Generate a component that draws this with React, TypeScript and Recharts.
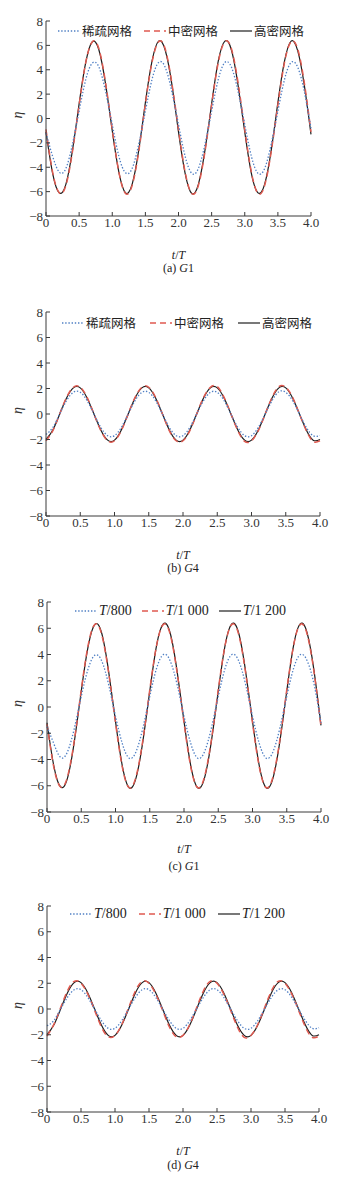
import React from "react";
import { LineChart, Line, XAxis, YAxis, Legend, Label } from "recharts";

// time axis (t/T), one sample every 0.1 T
const tValues = [
  0, 0.1, 0.2, 0.3, 0.4, 0.5, 0.6, 0.7, 0.8, 0.9,
  1.0, 1.1, 1.2, 1.3, 1.4, 1.5, 1.6, 1.7, 1.8, 1.9,
  2.0, 2.1, 2.2, 2.3, 2.4, 2.5, 2.6, 2.7, 2.8, 2.9,
  3.0, 3.1, 3.2, 3.3, 3.4, 3.5, 3.6, 3.7, 3.8, 3.9,
  4.0,
];
const xTicks = [0, 0.5, 1, 1.5, 2, 2.5, 3, 3.5, 4];
const yTicks = [-8, -6, -4, -2, 0, 2, 4, 6, 8];

const gridLabels = ["稀疏网格", "中密网格", "高密网格"];
const stepLabels = ["T/800", "T/1 000", "T/1 200"];

// (a) G1, grid study
const aCoarse = [
  -1.2, -3.1, -4.4, -4.1, -2.1, 0.6, 3.2, 4.55, 4.2, 2.2,
  -0.5, -3.1, -4.45, -4.1, -2.1, 0.6, 3.2, 4.6, 4.2, 2.2,
  -0.5, -3.1, -4.5, -4.1, -2.1, 0.6, 3.2, 4.6, 4.2, 2.2,
  -0.5, -3.1, -4.5, -4.1, -2.1, 0.6, 3.2, 4.6, 4.2, 2.2,
  -0.8,
];
const aMedium = [
  -0.9, -4.4, -6.1, -5.5, -2.7, 1.1, 4.6, 6.3, 5.7, 2.9,
  -0.9, -4.4, -6.15, -5.5, -2.7, 1.2, 4.6, 6.3, 5.7, 2.9,
  -0.9, -4.4, -6.15, -5.5, -2.7, 1.1, 4.6, 6.3, 5.7, 2.9,
  -0.9, -4.4, -6.15, -5.5, -2.7, 1.1, 4.6, 6.3, 5.7, 2.9,
  -1.1,
];
const aFine = [
  -1.1, -4.5, -6.1, -5.4, -2.6, 1.2, 4.6, 6.3, 5.6, 2.8,
  -1.0, -4.4, -6.1, -5.4, -2.6, 1.3, 4.7, 6.35, 5.6, 2.8,
  -1.1, -4.5, -6.15, -5.4, -2.6, 1.2, 4.7, 6.35, 5.6, 2.7,
  -1.1, -4.5, -6.1, -5.4, -2.6, 1.3, 4.7, 6.35, 5.55, 2.7,
  -1.3,
];

// (b) G4, grid study
const bCoarse = [
  -1.6, -1.05, 0.0, 1.05, 1.7, 1.7, 1.05, 0.0, -1.05, -1.7,
  -1.7, -1.05, 0.0, 1.05, 1.7, 1.7, 1.05, 0.0, -1.05, -1.7,
  -1.7, -1.05, 0.0, 1.05, 1.7, 1.7, 1.05, 0.0, -1.05, -1.7,
  -1.7, -1.05, 0.0, 1.05, 1.75, 1.7, 1.05, 0.0, -1.05, -1.7,
  -1.7,
];
const bMedium = [
  -2.1, -1.3, 0.0, 1.3, 2.1, 2.1, 1.3, 0.0, -1.3, -2.1,
  -2.1, -1.3, 0.0, 1.3, 2.1, 2.1, 1.3, 0.0, -1.3, -2.1,
  -2.1, -1.3, 0.0, 1.3, 2.1, 2.15, 1.3, 0.0, -1.3, -2.15,
  -2.1, -1.3, 0.0, 1.3, 2.15, 2.1, 1.3, 0.0, -1.3, -2.15,
  -2.1,
];
const bFine = [
  -2.0, -1.25, 0.0, 1.25, 2.05, 2.05, 1.25, 0.0, -1.25, -2.05,
  -2.05, -1.25, 0.0, 1.25, 2.05, 2.05, 1.25, 0.0, -1.25, -2.05,
  -2.05, -1.25, 0.0, 1.25, 2.05, 2.05, 1.25, 0.0, -1.25, -2.05,
  -2.05, -1.25, 0.0, 1.25, 2.05, 2.05, 1.25, 0.0, -1.25, -2.05,
  -2.0,
];

// (c) G1, time step study
const cCoarse = [
  -1.5, -2.8, -3.85, -3.4, -1.6, 0.8, 2.9, 3.95, 3.5, 1.7,
  -0.7, -2.8, -3.9, -3.4, -1.6, 0.8, 2.95, 4.0, 3.5, 1.7,
  -0.7, -2.8, -3.9, -3.4, -1.6, 0.8, 2.95, 4.0, 3.5, 1.7,
  -0.7, -2.8, -3.9, -3.4, -1.6, 0.8, 2.95, 4.0, 3.5, 1.7,
  -1.2,
];
const cMedium = [
  -1.3, -4.6, -6.1, -5.3, -2.5, 1.3, 4.7, 6.3, 5.5, 2.6,
  -1.2, -4.6, -6.15, -5.3, -2.5, 1.3, 4.7, 6.3, 5.5, 2.6,
  -1.2, -4.6, -6.15, -5.3, -2.5, 1.3, 4.7, 6.3, 5.5, 2.6,
  -1.2, -4.6, -6.15, -5.3, -2.5, 1.3, 4.7, 6.3, 5.5, 2.6,
  -1.5,
];
const cFine = [
  -1.2, -4.5, -6.1, -5.4, -2.6, 1.2, 4.6, 6.3, 5.6, 2.7,
  -1.1, -4.5, -6.15, -5.4, -2.6, 1.2, 4.7, 6.35, 5.6, 2.7,
  -1.1, -4.5, -6.15, -5.4, -2.6, 1.2, 4.7, 6.35, 5.6, 2.7,
  -1.1, -4.5, -6.15, -5.4, -2.6, 1.2, 4.7, 6.35, 5.6, 2.7,
  -1.4,
];

// (d) G4, time step study
const dCoarse = [
  -1.3, -0.9, 0.0, 0.9, 1.5, 1.5, 0.9, 0.0, -0.9, -1.5,
  -1.5, -0.9, 0.0, 0.9, 1.5, 1.5, 0.9, 0.0, -0.9, -1.5,
  -1.5, -0.9, 0.0, 0.9, 1.5, 1.5, 0.9, 0.0, -0.9, -1.5,
  -1.5, -0.9, 0.0, 0.9, 1.5, 1.5, 0.9, 0.0, -0.9, -1.5,
  -1.45,
];
const dMedium = [
  -2.1, -1.2, 0.1, 1.4, 2.15, 2.0, 1.15, -0.1, -1.4, -2.15,
  -2.05, -1.2, 0.1, 1.4, 2.15, 2.0, 1.15, -0.1, -1.4, -2.15,
  -2.05, -1.2, 0.1, 1.4, 2.15, 2.0, 1.15, -0.1, -1.4, -2.2,
  -2.05, -1.2, 0.1, 1.4, 2.15, 2.0, 1.15, -0.1, -1.4, -2.2,
  -2.1,
];
const dFine = [
  -2.0, -1.25, 0.0, 1.25, 2.05, 2.05, 1.25, 0.0, -1.25, -2.05,
  -2.05, -1.25, 0.0, 1.25, 2.05, 2.05, 1.25, 0.0, -1.25, -2.05,
  -2.05, -1.25, 0.0, 1.25, 2.05, 2.05, 1.25, 0.0, -1.25, -2.05,
  -2.05, -1.25, 0.0, 1.25, 2.05, 2.05, 1.25, 0.0, -1.25, -2.05,
  -2.0,
];

const SERIF = "'Liberation Serif', 'DejaVu Serif', serif";
const CJK = "'Noto Sans CJK SC', 'Noto Sans', sans-serif";
const AXIS = "#3a3a3a";

const seriesStyle = {
  coarse: { stroke: "#4f7fc4", dash: "1.4 1.8", width: 1.3 },
  medium: { stroke: "#e05a50", dash: "6 4", width: 1.5 },
  fine: { stroke: "#1e1e1e", dash: undefined, width: 1.2 },
};

const fmtX = (v: number) => (v === 0 ? "0" : v.toFixed(1));
const fmtY = (v: number) => (v < 0 ? "\u2212" + Math.abs(v) : String(v));

function LegendText({ text }: { text: string }) {
  if (text.startsWith("T/")) {
    return (
      <span style={{ fontFamily: SERIF, fontSize: 14 }}>
        <i>T</i>
        {text.slice(1)}
      </span>
    );
  }
  return <span style={{ fontFamily: CJK, fontSize: 12.5 }}>{text}</span>;
}

function LegendRow({ labels, gap }: { labels: string[]; gap: number }) {
  const keys = ["coarse", "medium", "fine"] as const;
  return (
    <div style={{ display: "flex", alignItems: "center", gap, color: "#222", whiteSpace: "nowrap" }}>
      {keys.map((k, i) => {
        const s = seriesStyle[k];
        return (
          <div key={k} style={{ display: "flex", alignItems: "center", gap: 2 }}>
            <svg width={22} height={8}>
              <line x1={0} y1={4} x2={22} y2={4} stroke={s.stroke} strokeWidth={s.width} strokeDasharray={s.dash} />
            </svg>
            <LegendText text={labels[i]} />
          </div>
        );
      })}
    </div>
  );
}

type PanelProps = {
  y8: number;
  yMin: number;
  left: number;
  right: number;
  coarse: number[];
  medium: number[];
  fine: number[];
  labels: string[];
  legendX: number;
  legendY: number;
  legendGap: number;
  labelY: number;
  captionY: number;
  tag: string;
  grid: string;
};

function Panel(p: PanelProps) {
  const data = tValues.map((t, i) => ({ t, coarse: p.coarse[i], medium: p.medium[i], fine: p.fine[i] }));
  const chartTop = p.y8 - 10;
  const plotH = p.yMin - p.y8;
  const cx = (p.left + p.right) / 2;
  const textBox = {
    position: "absolute" as const,
    textAlign: "center" as const,
    fontFamily: SERIF,
    fontSize: 12,
    lineHeight: "10px",
    height: 10,
    color: "#222",
  };
  return (
    <>
      <div style={{ position: "absolute", top: chartTop, left: 0 }}>
        <LineChart
          width={343}
          height={plotH + 40}
          data={data}
          margin={{ top: 10, right: 343 - p.right, bottom: 0, left: 0 }}
        >
          <XAxis
            dataKey="t"
            type="number"
            domain={[0, 4]}
            ticks={xTicks}
            tickFormatter={fmtX}
            height={30}
            stroke={AXIS}
            tickSize={-4}
            tickMargin={6}
            tick={{ fill: "#333", fontFamily: SERIF, fontSize: 13 }}
            interval={0}
          />
          <YAxis
            type="number"
            domain={[-8, 8]}
            ticks={yTicks}
            tickFormatter={fmtY}
            width={p.left}
            stroke={AXIS}
            tickSize={-4}
            tickMargin={7}
            tick={{ fill: "#333", fontFamily: SERIF, fontSize: 13 }}
            interval={0}
          >
            <Label
              value="η"
              angle={-90}
              position="insideLeft"
              offset={17}
              style={{ fontFamily: SERIF, fontStyle: "italic", fontSize: 14, fill: "#333" }}
            />
          </YAxis>
          <Line
            type="natural"
            dataKey="fine"
            stroke={seriesStyle.fine.stroke}
            strokeWidth={seriesStyle.fine.width}
            dot={false}
            isAnimationActive={false}
          />
          <Line
            type="natural"
            dataKey="medium"
            stroke={seriesStyle.medium.stroke}
            strokeWidth={seriesStyle.medium.width}
            strokeDasharray={seriesStyle.medium.dash}
            dot={false}
            isAnimationActive={false}
          />
          <Line
            type="natural"
            dataKey="coarse"
            stroke={seriesStyle.coarse.stroke}
            strokeWidth={seriesStyle.coarse.width}
            strokeDasharray={seriesStyle.coarse.dash}
            dot={false}
            isAnimationActive={false}
          />
          <Legend
            content={() => <LegendRow labels={p.labels} gap={p.legendGap} />}
            wrapperStyle={{ top: p.legendY - chartTop - 9, left: p.legendX, width: "auto" }}
          />
        </LineChart>
      </div>
      <div style={{ ...textBox, top: p.labelY - 5, left: cx - 30, width: 60 }}>
        <i>t</i>/<i>T</i>
      </div>
      <div style={{ ...textBox, top: p.captionY - 5, left: cx - 50, width: 100 }}>
        ({p.tag}) <i>G</i>
        {p.grid}
      </div>
    </>
  );
}

export default function App() {
  return (
    <div style={{ position: "absolute", top: 0, left: 0, width: 343, height: 1186, background: "#fff" }}>
      <Panel
        y8={21} yMin={235} left={46} right={311}
        coarse={aCoarse} medium={aMedium} fine={aFine}
        labels={gridLabels} legendX={58} legendY={30} legendGap={12}
        labelY={255} captionY={268} tag="a" grid="1"
      />
      <Panel
        y8={312} yMin={535} left={46} right={320}
        coarse={bCoarse} medium={bMedium} fine={bFine}
        labels={gridLabels} legendX={62} legendY={322} legendGap={14}
        labelY={555} captionY={568} tag="b" grid="4"
      />
      <Panel
        y8={602} yMin={828} left={47} right={321}
        coarse={cCoarse} medium={cMedium} fine={cFine}
        labels={stepLabels} legendX={75} legendY={612} legendGap={10}
        labelY={849} captionY={866} tag="c" grid="1"
      />
      <Panel
        y8={906} yMin={1128} left={47} right={319}
        coarse={dCoarse} medium={dMedium} fine={dFine}
        labels={stepLabels} legendX={70} legendY={915} legendGap={12}
        labelY={1151} captionY={1165} tag="d" grid="4"
      />
    </div>
  );
}
